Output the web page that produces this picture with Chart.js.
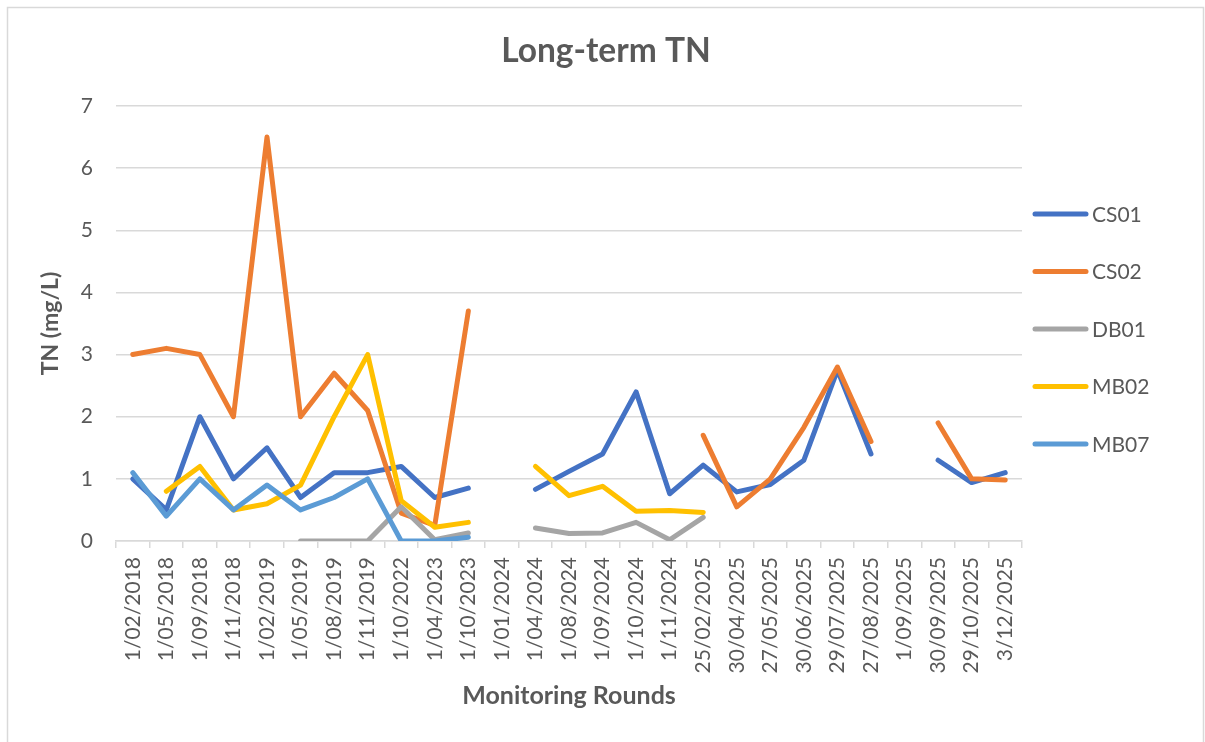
<!DOCTYPE html>
<html>
<head>
<meta charset="utf-8">
<title>Long-term TN</title>
<script src="https://cdn.jsdelivr.net/npm/chart.js@4.4.1/dist/chart.umd.min.js"></script>
<style>
    html, body { margin: 0; padding: 0; background: #ffffff; }
    #wrap { width: 1205px; height: 742px; position: relative; }
</style>
</head>
<body>
<div id="wrap"><canvas id="tnChart"></canvas></div>
<script>
const rounds = ['1/02/2018', '1/05/2018', '1/09/2018', '1/11/2018', '1/02/2019', '1/05/2019',
    '1/08/2019', '1/11/2019', '1/10/2022', '1/04/2023', '1/10/2023', '1/01/2024', '1/04/2024',
    '1/08/2024', '1/09/2024', '1/10/2024', '1/11/2024', '25/02/2025', '30/04/2025', '27/05/2025',
    '30/06/2025', '29/07/2025', '27/08/2025', '1/09/2025', '30/09/2025', '29/10/2025', '3/12/2025'];

const cs01 = [1.0, 0.5, 2.0, 1.0, 1.5, 0.7, 1.1, 1.1, 1.2, 0.7, 0.85, null, 0.83, 1.12, 1.4, 2.4,
    0.76, 1.22, 0.79, 0.91, 1.3, 2.75, 1.4, null, 1.3, 0.94, 1.1];
const cs02 = [3.0, 3.1, 3.0, 2.0, 6.5, 2.0, 2.7, 2.1, 0.45, 0.25, 3.7, null, null, null, null, null,
    null, 1.7, 0.55, 1.0, 1.83, 2.8, 1.6, null, 1.9, 1.0, 0.98];
const db01 = [null, null, null, null, null, 0, 0, 0, 0.55, 0.02, 0.13, null, 0.21, 0.12, 0.13, 0.3,
    0.02, 0.38, null, null, null, null, null, null, null, null, null];
const mb02 = [null, 0.8, 1.2, 0.5, 0.6, 0.9, 2.0, 3.0, 0.65, 0.22, 0.3, null, 1.2, 0.73, 0.88, 0.48,
    0.49, 0.46, null, null, null, null, null, null, null, null, null];
const mb07 = [1.1, 0.4, 1.0, 0.5, 0.9, 0.5, 0.7, 1.0, 0.0, 0.0, 0.06, null, null, null, null, null,
    null, null, null, null, null, null, null, null, null, null, null];

const seriesNames = ['CS01', 'CS02', 'DB01', 'MB02', 'MB07'];
const seriesData = [cs01, cs02, db01, mb02, mb07];
const seriesColors = ['#4472C4', '#ED7D31', '#A5A5A5', '#FFC000', '#5B9BD5'];
const yTicks = [0, 1, 2, 3, 4, 5, 6, 7];
const chartTitle = 'Long-term TN';

const textColor = '#595959';
const gridColor = '#d9d9d9';
const fontName = 'Lato';

// white background, thin frame and the title (centred on the whole chart, not the plot)
const framePlugin = {
    id: 'frame',
    beforeDraw(chart) {
        const ctx = chart.ctx;
        ctx.save();
        ctx.fillStyle = '#ffffff';
        ctx.fillRect(0, 0, chart.width, chart.height);
        ctx.strokeStyle = gridColor;
        ctx.lineWidth = 1.5;
        ctx.strokeRect(7.5, 7.5, 1196, 745);
        ctx.fillStyle = textColor;
        ctx.font = `bold 33.5px ${fontName}`;
        ctx.textAlign = 'center';
        ctx.textBaseline = 'middle';
        ctx.fillText(chartTitle, 606, 51);
        ctx.restore();
    }
};

// legend on the right, one line sample and name per series
const sideLegend = {
    id: 'sideLegend',
    afterDraw(chart) {
        const ctx = chart.ctx;
        ctx.save();
        ctx.font = `21px ${fontName}`;
        ctx.textBaseline = 'middle';
        ctx.lineCap = 'round';
        chart.data.datasets.forEach((ds, i) => {
            const y = 214 + i * 57.5;
            ctx.strokeStyle = ds.borderColor;
            ctx.lineWidth = 5;
            ctx.beginPath();
            ctx.moveTo(1035, y);
            ctx.lineTo(1086, y);
            ctx.stroke();
            ctx.fillStyle = textColor;
            ctx.fillText(ds.label, 1092, y + 1);
        });
        ctx.restore();
    }
};

const datasets = seriesNames.map((name, i) => ({
    label: name,
    data: seriesData[i],
    borderColor: seriesColors[i],
    backgroundColor: seriesColors[i],
    borderWidth: 5,
    borderCapStyle: 'round',
    borderJoinStyle: 'round',
    pointRadius: 0,
    pointHoverRadius: 0,
    spanGaps: false,
    tension: 0,
    order: seriesNames.length - 1 - i // later series on top, like Excel
}));

new Chart(document.getElementById('tnChart'), {
    type: 'line',
    data: { labels: rounds, datasets: datasets },
    options: {
        responsive: true,
        maintainAspectRatio: false,
        animation: false,
        devicePixelRatio: 1,
        layout: { padding: { left: 20, right: 183, top: 106, bottom: 20 } },
        plugins: {
            legend: { display: false },
            tooltip: { enabled: false },
            title: { display: false }
        },
        scales: {
            x: {
                type: 'category',
                offset: true,
                grid: {
                    offset: true,
                    drawOnChartArea: false,
                    drawTicks: true,
                    tickLength: 7,
                    color: gridColor,
                    lineWidth: 1.5
                },
                border: { display: true, color: gridColor, width: 1.5 },
                ticks: {
                    autoSkip: false,
                    maxRotation: 90,
                    minRotation: 90,
                    padding: 9,
                    color: textColor,
                    font: { family: fontName, size: 21 }
                },
                title: {
                    display: true,
                    text: 'Monitoring Rounds',
                    color: textColor,
                    font: { family: fontName, size: 25, weight: 'bold', lineHeight: 1.2 },
                    padding: { top: 0, bottom: 11 }
                },
                afterFit(scale) { scale.height = 181; }
            },
            y: {
                min: yTicks[0],
                max: yTicks[yTicks.length - 1],
                afterBuildTicks(scale) { scale.ticks = yTicks.map(v => ({ value: v })); },
                grid: { color: gridColor, lineWidth: 1.5, drawTicks: false },
                border: { display: false },
                ticks: {
                    padding: 23,
                    color: textColor,
                    font: { family: fontName, size: 21 }
                },
                title: {
                    display: true,
                    text: 'TN (mg/L)',
                    color: textColor,
                    font: { family: fontName, size: 23, weight: 'bold', lineHeight: 1.2 },
                    padding: { top: 17, bottom: 0 }
                },
                afterFit(scale) { scale.width = 96; }
            }
        }
    },
    plugins: [framePlugin, sideLegend]
});
</script>
</body>
</html>
